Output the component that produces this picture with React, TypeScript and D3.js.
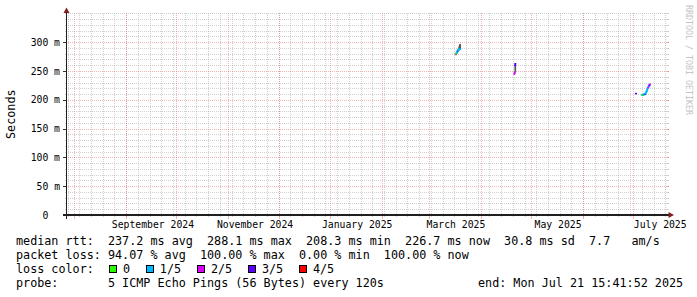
import React from "react";
import * as d3 from "d3";

// ---- time window & axes ----
const START = "2024-07-27T15:41:52";
const END = "2025-07-21T15:41:52";
const yMaxMs = 350;
const yMajorTicks = [0, 50, 100, 150, 200, 250, 300];
const yMinorTicks = [10, 20, 30, 40, 60, 70, 80, 90, 110, 120, 130, 140, 160, 170, 180, 190, 210, 220, 230, 240, 260, 270, 280, 290, 310, 320, 330, 340, 350];

// ---- median rtt samples (RRA steps) ----
const stamps = [
  "2025-03-16T20:00", "2025-03-17T00:48", "2025-03-17T05:36", "2025-03-17T10:24", "2025-03-17T15:12",
  "2025-03-17T20:00", "2025-03-18T00:48", "2025-03-18T05:36", "2025-03-18T10:24", "2025-03-18T15:12",
  "2025-03-18T20:00", "2025-03-19T00:48", "2025-03-19T05:36", "2025-03-19T10:24",
  "2025-04-20T18:00", "2025-04-20T22:48", "2025-04-21T03:36", "2025-04-21T08:24",
  "2025-07-02T10:00",
  "2025-07-05T23:00", "2025-07-06T07:00", "2025-07-06T15:00", "2025-07-06T23:00", "2025-07-07T07:00",
  "2025-07-07T15:00", "2025-07-08T00:00", "2025-07-08T08:00", "2025-07-08T16:00", "2025-07-09T00:00",
  "2025-07-09T08:00", "2025-07-09T16:00", "2025-07-10T00:00", "2025-07-10T08:00", "2025-07-10T16:00",
];
const medianMs = [
  279.0, 280.2, 281.0, 282.3, 283.5,
  284.6, 285.4, 286.2, 287.0, 287.6,
  288.1, 287.8, 288.0, 288.1,
  244.8, 247.5, 259.5, 262.5,
  210.8,
  208.3, 208.6, 209.0, 208.7, 209.3,
  209.8, 210.5, 212.5, 214.5, 217.0,
  219.5, 221.5, 223.5, 225.0, 226.7,
];
const lossCount = [
  2, 0, 0, 1, 1,
  1, 3, 1, 1, 1,
  1, 1, 1, 1,
  2, 2, 3, 3,
  3,
  1, 0, 1, 0, 1,
  3, 1, 1, 1, 1,
  1, 2, 1, 3, 2,
];
const smokeLoMs = [
  277.5, 278.5, 279.5, 280.5, 282.0,
  283.0, 284.0, 284.5, 285.5, 286.0,
  286.5, 286.0, 286.5, 287.0,
  244.0, 246.0, 248.0, 250.0,
  210.0,
  207.5, 207.8, 208.0, 208.0, 208.5,
  209.0, 209.5, 211.5, 213.5, 216.0,
  218.5, 220.5, 222.5, 224.0, 225.5,
];
const smokeHiMs = [
  281.0, 282.0, 283.0, 284.5, 286.0,
  287.5, 289.0, 290.0, 292.0, 294.0,
  296.0, 296.5, 297.0, 297.0,
  246.0, 258.0, 262.5, 263.5,
  211.5,
  209.0, 209.5, 210.0, 209.5, 210.0,
  210.5, 211.5, 213.5, 215.5, 218.0,
  220.5, 222.5, 224.5, 226.0, 228.0,
];

// ---- legend ----
const lossLabels = ["0", "1/5", "2/5", "3/5", "4/5"];
const lossColors = ["#26ff00", "#00b8ff", "#dd00ff", "#5e00ff", "#ff0000"];
const legendRtt = "median rtt:  237.2 ms avg  288.1 ms max  208.3 ms min  226.7 ms now  30.8 ms sd  7.7   am/s";
const legendLoss = "packet loss: 94.07 % avg  100.00 % max  0.00 % min  100.00 % now";
const legendColorTitle = "loss color:";
const legendProbe = "probe:       5 ICMP Echo Pings (56 Bytes) every 120s";
const legendEnd = "end: Mon Jul 21 15:41:52 2025";
const yTitle = "Seconds";
const watermark = "RRDTOOL / TOBI OETIKER";

const MONO = "'DejaVu Sans Mono', monospace";
const STEP_MS = 4.8 * 3600 * 1000;
const pre = (s: string) => s.replace(/ /g, "\u00A0");

export default function App() {
  const W = 697;
  const H = 297;
  const start = new Date(START);
  const end = new Date(END);
  const x = d3.scaleTime().domain([start, end]).range([67, 668]);
  const y = d3.scaleLinear().domain([0, yMaxMs]).range([215, 13.4]);
  const X0 = 67;
  const X1 = 667;
  const Y0 = y(0);
  const Y1 = y(yMaxMs);

  const weeks = d3.timeSunday.range(start, end);
  const months = d3.timeMonth.range(start, end);
  const labelMonths = d3.timeMonth.every(2)!.range(start, end);
  const fmt = d3.timeFormat("%B %Y");

  const gridCol = "rgba(143,143,143,0.42)";
  const mgridCol = "rgba(222,79,79,0.42)";

  const pts = stamps.map((s, i) => ({
    t: new Date(s),
    v: medianMs[i],
    loss: lossCount[i],
    lo: smokeLoMs[i],
    hi: smokeHiMs[i],
  }));
  const ends = pts.map((p, i) =>
    i + 1 < pts.length && +pts[i + 1].t - +p.t <= 12 * 3600 * 1000
      ? pts[i + 1].t
      : new Date(+p.t + STEP_MS)
  );

  // runs of consecutive same-loss steps
  const runs: { loss: number; pts: [Date, number][] }[] = [];
  pts.forEach((p, i) => {
    const prev = runs[runs.length - 1];
    const contiguous = i > 0 && +ends[i - 1] === +p.t && pts[i - 1].loss === p.loss;
    if (prev && contiguous) {
      prev.pts.pop();
      prev.pts.push([p.t, p.v], [ends[i], p.v]);
    } else {
      runs.push({ loss: p.loss, pts: [[p.t, p.v], [ends[i], p.v]] });
    }
  });
  const line = d3
    .line<[Date, number]>()
    .x((d) => x(d[0]))
    .y((d) => y(d[1]))
    .curve(d3.curveStepAfter);

  // legend boxes layout
  const charW = 7.07;
  let bx = 109;
  const boxes = lossLabels.map((lab, i) => {
    const b = { x: bx, label: lab, color: lossColors[i] };
    bx = bx + 14 + lab.length * charW + 15.8;
    return b;
  });

  return (
    <svg
      width={W}
      height={H}
      viewBox={`0 0 ${W} ${H}`}
      style={{ position: "absolute", left: 0, top: 0, background: "#ffffff" }}
    >
      <rect x={0} y={0} width={W} height={H} fill="#ffffff" />

      <g shapeRendering="crispEdges">
        {/* minor horizontal grid */}
        {yMinorTicks.map((v) => (
          <g key={"hy" + v}>
            <line x1={X0 + 1} x2={X1 + 1} y1={Math.round(y(v)) + 0.5} y2={Math.round(y(v)) + 0.5} stroke={gridCol} strokeDasharray="1,1" />
            <line x1={X0 - 2} x2={X0} y1={Math.round(y(v)) + 0.5} y2={Math.round(y(v)) + 0.5} stroke={gridCol} />
            <line x1={X1} x2={X1 + 2} y1={Math.round(y(v)) + 0.5} y2={Math.round(y(v)) + 0.5} stroke={gridCol} />
          </g>
        ))}
        {/* minor vertical grid (weeks) */}
        {weeks.map((w) => {
          const px = Math.round(x(w)) + 0.5;
          return (
            <g key={"wk" + +w}>
              <line x1={px} x2={px} y1={Y1} y2={Y0} stroke={gridCol} strokeDasharray="1,1" />
              <line x1={px} x2={px} y1={Y0} y2={Y0 + 2} stroke={gridCol} />
            </g>
          );
        })}
        {/* major horizontal grid */}
        {yMajorTicks.filter((v) => v > 0).map((v) => (
          <g key={"my" + v}>
            <line x1={X0 + 1} x2={X1 + 2} y1={Math.round(y(v)) + 0.5} y2={Math.round(y(v)) + 0.5} stroke={mgridCol} strokeDasharray="1,1" />
            <line x1={X1} x2={X1 + 2} y1={Math.round(y(v)) + 0.5} y2={Math.round(y(v)) + 0.5} stroke={mgridCol} />
          </g>
        ))}
        {/* major vertical grid (months) */}
        {months.map((m) => {
          const px = Math.round(x(m)) + 0.5;
          return (
            <g key={"mo" + +m}>
              <line x1={px} x2={px} y1={Y1} y2={Y0} stroke={mgridCol} strokeDasharray="1,1" />
              <line x1={px} x2={px} y1={Y0} y2={Y0 + 4} stroke={mgridCol} />
            </g>
          );
        })}
        {/* y major ticks */}
        {yMajorTicks.map((v) => (
          <line key={"yt" + v} x1={X0 - 4} x2={X0} y1={Math.round(y(v)) + 0.5} y2={Math.round(y(v)) + 0.5} stroke="#303030" />
        ))}
      </g>

      {/* smoke */}
      <g>
        {pts.map((p, i) => {
          const xa = x(p.t);
          const xb = Math.max(x(ends[i]), xa + 1);
          return (
            <rect key={"sm" + i} x={xa} y={y(p.hi)} width={xb - xa} height={y(p.lo) - y(p.hi)} fill="#5a5a5a" />
          );
        })}
      </g>

      {/* median, coloured by loss */}
      <g fill="none">
        {runs.map((r, i) => (
          <path key={"ln" + i} d={line(r.pts) || ""} stroke={lossColors[r.loss]} strokeWidth={1.6} strokeLinecap="square" />
        ))}
      </g>

      {/* axes */}
      <line x1={X0 - 0.5} x2={X0 - 0.5} y1={Y0 + 4} y2={Y1 - 1} stroke="#1f1f1f" strokeWidth={1} shapeRendering="crispEdges" />
      <line x1={X0 - 4} x2={X1 + 2} y1={Y0} y2={Y0} stroke="#1f1f1f" strokeWidth={2} shapeRendering="crispEdges" />
      <path d={`M${X0 - 3.5},${Y1 - 0.5} L${X0 + 2.5},${Y1 - 0.5} L${X0 - 0.5},${Y1 - 6} Z`} fill="#801f1f" />
      <path d={`M${X1 + 1.5},${Y0 - 3} L${X1 + 1.5},${Y0 + 3} L${X1 + 7},${Y0} Z`} fill="#801f1f" />

      {/* y tick labels */}
      <g fontFamily={MONO} fontSize={9.75} fill="#000" textAnchor="end">
        {yMajorTicks.map((v) => (
          <text key={"yl" + v} x={60} y={y(v) + 3.6}>
            {pre(v === 0 ? "0  " : `${v} m`)}
          </text>
        ))}
      </g>

      {/* x labels */}
      <g fontFamily={MONO} fontSize={9.75} fill="#000" textAnchor="middle">
        {labelMonths.map((m) => (
          <text key={"xl" + +m} x={x(d3.timeDay.offset(m, 16))} y={228}>
            {fmt(m)}
          </text>
        ))}
      </g>

      {/* y title */}
      <text
        transform={`translate(15, ${(Y0 + Y1) / 2}) rotate(-90)`}
        textAnchor="middle"
        fontFamily={MONO}
        fontSize={11.75}
        fill="#000"
      >
        {yTitle}
      </text>

      {/* watermark */}
      <text transform="translate(685.5, 5) rotate(90)" fontFamily={MONO} fontSize={8.3} fill="#c4c4c4">
        {pre(watermark)}
      </text>

      {/* legend */}
      <g fontFamily={MONO} fontSize={11.75} fill="#000">
        <text x={16} y={245}>{pre(legendRtt)}</text>
        <text x={16} y={259}>{pre(legendLoss)}</text>
        <text x={16} y={273}>{pre(legendColorTitle)}</text>
        {boxes.map((b) => (
          <g key={"bx" + b.label}>
            <rect x={b.x + 0.5} y={265.5} width={7} height={7} fill={b.color} stroke="#000" strokeWidth={1} shapeRendering="crispEdges" />
            <text x={b.x + 14} y={273}>{b.label}</text>
          </g>
        ))}
        <text x={16} y={287}>{pre(legendProbe)}</text>
        <text x={478} y={287}>{pre(legendEnd)}</text>
      </g>
    </svg>
  );
}
